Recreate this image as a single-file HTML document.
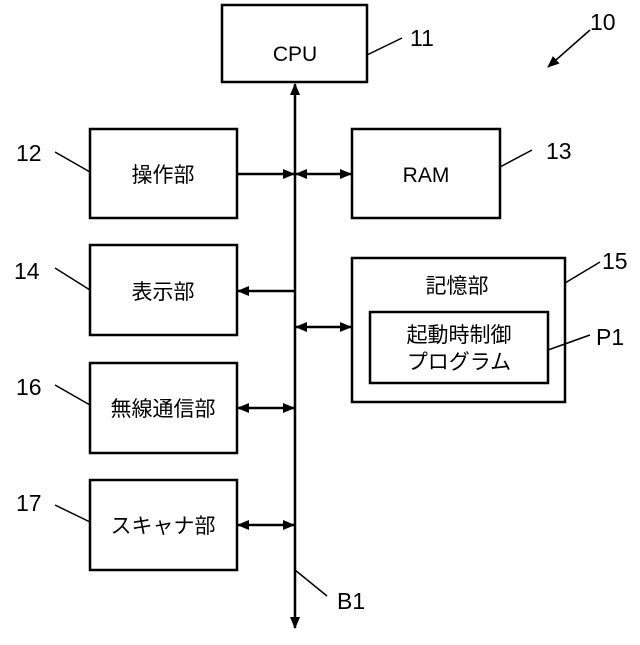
<!DOCTYPE html>
<html><head><meta charset="utf-8"><style>
html,body{margin:0;padding:0;background:#fff;}
svg text{font-family:"Liberation Sans","Noto Sans CJK JP",sans-serif;fill:#000;}
</style></head><body>
<svg width="640" height="640" viewBox="0 0 640 640" xmlns="http://www.w3.org/2000/svg">
<defs>
<marker id="a" markerWidth="12" markerHeight="10" refX="11" refY="5" orient="auto-start-reverse" markerUnits="userSpaceOnUse">
<path d="M0,0 L12,5 L0,10 Z" fill="#000"/></marker>
</defs>
<g fill="none" stroke="#000" stroke-width="2.5">
<rect x="222" y="5" width="145" height="77"/>
<rect x="90" y="129" width="147" height="89"/>
<rect x="352" y="129" width="148" height="89"/>
<rect x="90" y="245" width="147" height="90"/>
<rect x="352" y="258" width="213" height="144"/>
<rect x="370" y="312" width="178" height="71"/>
<rect x="90" y="363" width="147" height="90"/>
<rect x="90" y="480" width="147" height="90"/>
<line x1="295" y1="84" x2="295" y2="628" marker-start="url(#a)" marker-end="url(#a)"/>
<line x1="237" y1="174" x2="294" y2="174" marker-end="url(#a)"/>
<line x1="296" y1="174" x2="351" y2="174" marker-start="url(#a)" marker-end="url(#a)"/>
<line x1="294" y1="291" x2="238" y2="291" marker-end="url(#a)"/>
<line x1="296" y1="327" x2="351" y2="327" marker-start="url(#a)" marker-end="url(#a)"/>
<line x1="238" y1="408" x2="294" y2="408" marker-start="url(#a)" marker-end="url(#a)"/>
<line x1="238" y1="525" x2="294" y2="525" marker-start="url(#a)" marker-end="url(#a)"/>
</g>
<g fill="none" stroke="#000" stroke-width="1.5">
<line x1="367" y1="55" x2="402" y2="38"/>
<line x1="590" y1="30" x2="548" y2="67" marker-end="url(#a)"/>
<line x1="500" y1="167" x2="532" y2="150"/>
<line x1="55" y1="152" x2="90" y2="172"/>
<line x1="55" y1="268" x2="90" y2="290"/>
<line x1="565" y1="283" x2="600" y2="262"/>
<line x1="548" y1="350" x2="590" y2="335"/>
<line x1="55" y1="385" x2="90" y2="405"/>
<line x1="55" y1="505" x2="90" y2="522"/>
<line x1="295" y1="570" x2="327" y2="596"/>
</g>
<g font-size="21" text-anchor="middle">
<text x="295" y="61">CPU</text>
<text x="163" y="182">操作部</text>
<text x="426" y="182">RAM</text>
<text x="163" y="299">表示部</text>
<text x="457" y="293">記憶部</text>
<text x="459" y="342">起動時制御</text>
<text x="459" y="369">プログラム</text>
<text x="163" y="416">無線通信部</text>
<text x="163" y="533">スキャナ部</text>
</g>
<g font-size="23">
<text x="410" y="46">11</text>
<text x="590" y="30">10</text>
<text x="16" y="161">12</text>
<text x="546" y="159">13</text>
<text x="14" y="279">14</text>
<text x="602" y="269">15</text>
<text x="596" y="345">P1</text>
<text x="16" y="395">16</text>
<text x="16" y="511">17</text>
<text x="337" y="609">B1</text>
</g>
</svg>
</body></html>
